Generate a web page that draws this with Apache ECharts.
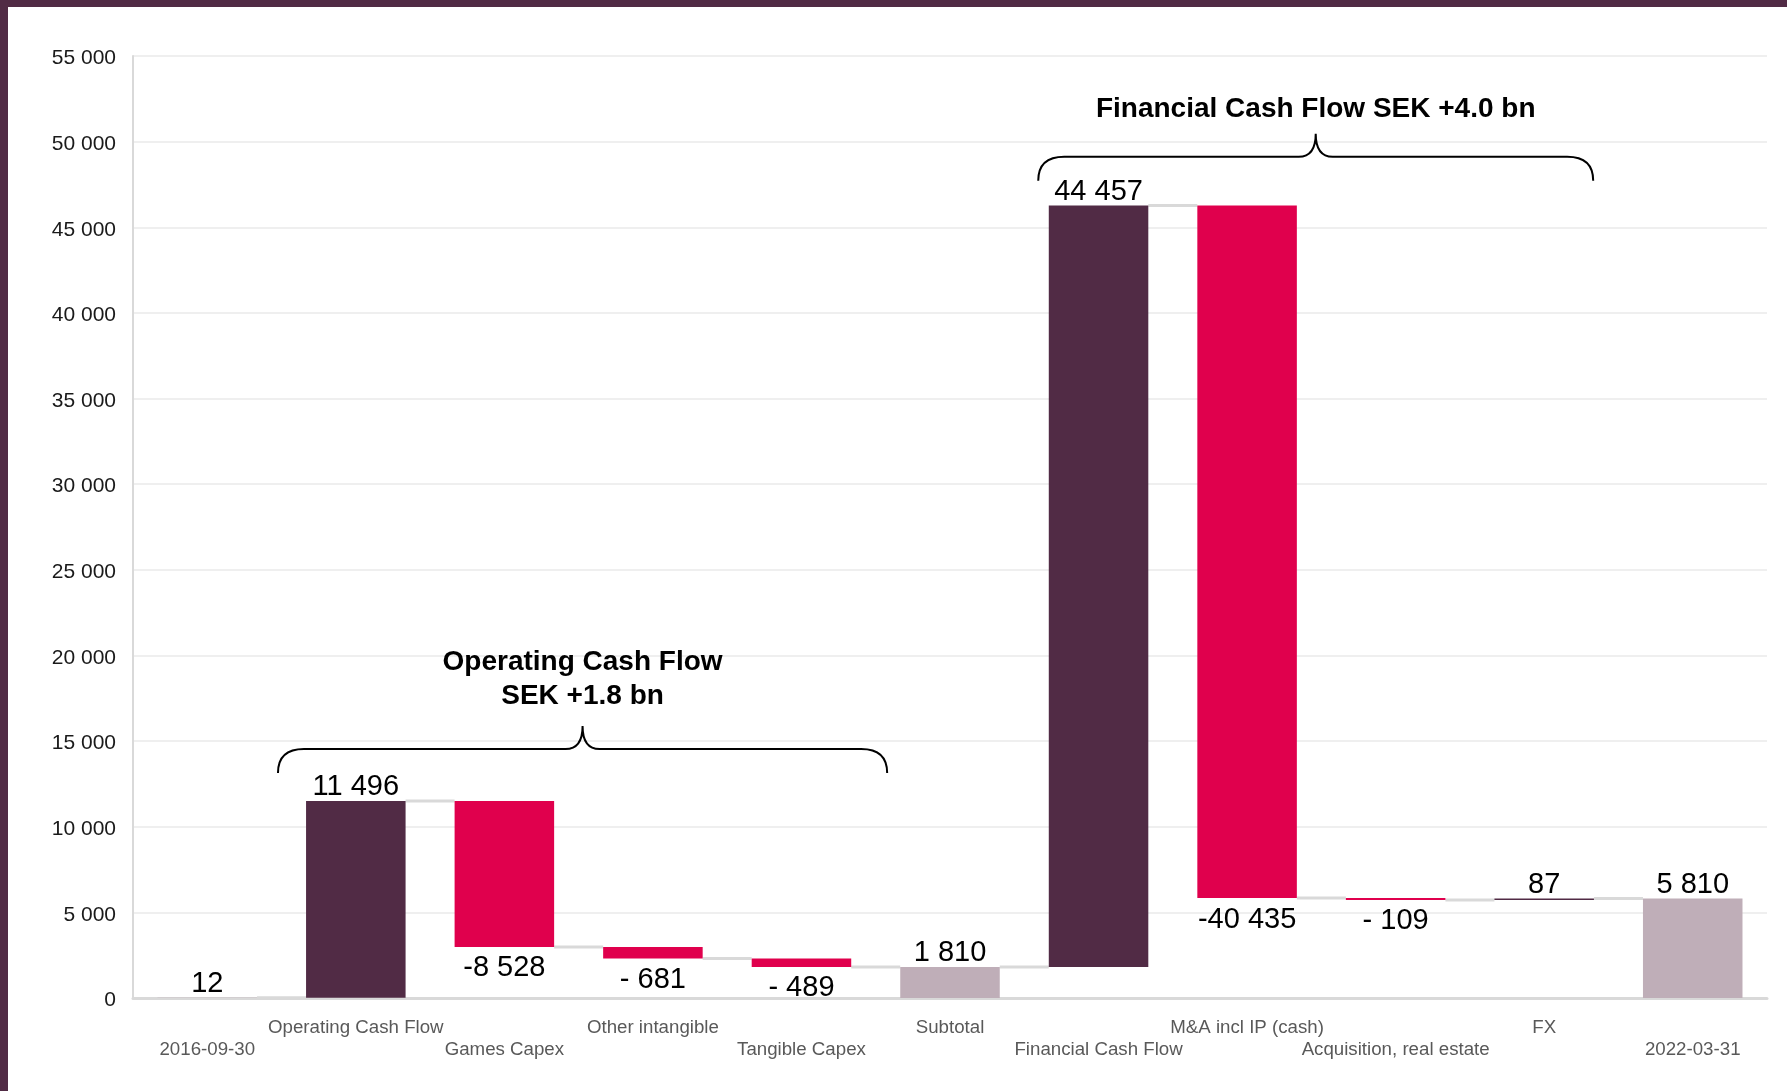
<!DOCTYPE html>
<html>
<head>
<meta charset="utf-8">
<title>Cash flow bridge 2016-09-30 to 2022-03-31</title>
<script src="https://cdn.jsdelivr.net/npm/echarts@6/dist/echarts.min.js"></script>
<style>
  html, body { margin: 0; padding: 0; background: #ffffff; }
  #wrap { position: relative; width: 1787px; height: 1091px; overflow: hidden; }
  #chart { position: absolute; left: 0; top: 0; width: 1787px; height: 1091px; }
  .frame { position: absolute; background: #512b45; z-index: 5; }
  #frameTop { left: 0; top: 0; width: 1787px; height: 7px; }
  #frameLeft { left: 0; top: 0; width: 8px; height: 1091px; }
</style>
</head>
<body>
<div id="wrap">
  <div id="chart"></div>
  <div class="frame" id="frameTop"></div>
  <div class="frame" id="frameLeft"></div>
</div>
<script>
// Bridge steps, SEK m
const categories = [
  '2016-09-30', 'Operating Cash Flow', 'Games Capex', 'Other intangible',
  'Tangible Capex', 'Subtotal', 'Financial Cash Flow', 'M&A incl IP (cash)',
  'Acquisition, real estate', 'FX', '2022-03-31'
];
const amounts = [12, 11496, -8528, -681, -489, 1810, 44457, -40435, -109, 87, 5810];
const kinds = ['total', 'delta', 'delta', 'delta', 'delta', 'total', 'delta', 'delta', 'delta', 'delta', 'total'];

// Value axis ticks
const yMin = 0;
const yMax = 55000;
const yStep = 5000;

// Group annotations: category span (in category units) and bracket level
const groupNotes = ['Operating Cash Flow\nSEK +1.8 bn', 'Financial Cash Flow SEK +4.0 bn'];
const groupFrom = [0.476, 5.594];
const groupTo = [4.577, 9.33];
const groupLevel = [14545, 49124];

const COLORS = { up: '#512b45', down: '#e0004d', total: '#bfaeb8', link: '#d9d9d9' };
const FONT = '"Liberation Sans", Arial, Helvetica, sans-serif';
const BAR_RATIO = 0.67;
const NOTE_GAP = [13, 7];

function spaced(n) {
  return String(n).replace(/\B(?=(\d{3})+(?!\d))/g, ' ');
}
function fmtValue(v) {
  const a = Math.abs(v);
  if (v < 0) return '-' + (a < 1000 ? ' ' : '') + spaced(a);
  return spaced(a);
}

// Build the invisible base and visible segments of the waterfall
const base = [], up = [], down = [], total = [], levels = [];
let level = 0;
amounts.forEach((v, i) => {
  if (kinds[i] === 'total') {
    level = v;
    base.push(0); up.push('-'); down.push('-'); total.push(v);
  } else if (v >= 0) {
    base.push(level); up.push(v); down.push('-'); total.push('-');
    level += v;
  } else {
    level += v;
    base.push(level); up.push('-'); down.push(-v); total.push('-');
  }
  levels.push(level);
});
const linkData = levels.slice(0, -1).map((l, i) => [i, l]);

const valueLabel = (pos, dist) => ({
  show: true,
  position: pos,
  distance: dist,
  color: '#000000',
  fontFamily: FONT,
  fontSize: 29,
  formatter: p => fmtValue(amounts[p.dataIndex])
});

const chart = echarts.init(document.getElementById('chart'), null, { renderer: 'canvas' });

chart.setOption({
  backgroundColor: '#ffffff',
  animation: false,
  grid: { left: 133, right: 20, top: 56, bottom: 93, containLabel: false, outerBoundsMode: 'none' },
  xAxis: {
    type: 'category',
    data: categories,
    axisLine: { show: true, lineStyle: { color: '#d9d9d9', width: 3 } },
    axisTick: { show: false },
    axisLabel: {
      interval: 0,
      margin: 19,
      color: '#595959',
      fontFamily: FONT,
      fontSize: 18.7,
      lineHeight: 22,
      formatter: (val, idx) => (idx % 2 === 1 ? val : '\n' + val)
    },
    splitLine: { show: false }
  },
  yAxis: {
    type: 'value',
    min: yMin,
    max: yMax,
    interval: yStep,
    axisLine: { show: true, lineStyle: { color: '#d9d9d9', width: 2 } },
    axisTick: { show: false },
    axisLabel: {
      margin: 17,
      color: '#1a1a1a',
      fontFamily: FONT,
      fontSize: 21,
      // sit the numbers a touch below their gridline
      verticalAlign: 'top',
      lineHeight: 5,
      formatter: v => spaced(v)
    },
    splitLine: { show: true, lineStyle: { color: '#efefef', width: 2 } }
  },
  series: [
    {
      type: 'custom',
      name: 'links',
      silent: true,
      z: 1,
      clip: false,
      data: linkData,
      renderItem: (params, api) => {
        const p = api.coord([api.value(0), api.value(1)]);
        const band = api.size([1, 0])[0];
        const half = band * BAR_RATIO / 2;
        return {
          type: 'line',
          shape: { x1: p[0] + half, y1: p[1], x2: p[0] + band - half, y2: p[1] },
          style: { stroke: COLORS.link, lineWidth: 3 }
        };
      }
    },
    {
      type: 'bar', name: 'base', stack: 'wf', barWidth: (BAR_RATIO * 100) + '%',
      silent: true, z: 2,
      itemStyle: { color: 'transparent' },
      emphasis: { disabled: true },
      data: base
    },
    {
      type: 'bar', name: 'up', stack: 'wf', z: 2,
      itemStyle: { color: COLORS.up },
      label: valueLabel('top', -1),
      data: up
    },
    {
      type: 'bar', name: 'down', stack: 'wf', z: 2,
      itemStyle: { color: COLORS.down },
      label: valueLabel('bottom', 7),
      data: down
    },
    {
      type: 'bar', name: 'total', stack: 'wf', z: 2,
      itemStyle: { color: COLORS.total },
      label: valueLabel('top', -1),
      data: total
    },
    {
      type: 'custom',
      name: 'groups',
      silent: true,
      z: 5,
      clip: false,
      data: groupNotes.map((t, i) => [i, groupLevel[i]]),
      renderItem: (params, api) => {
        const i = params.dataIndex;
        const x0 = api.coord([0, 0])[0];
        const band = api.size([1, 0])[0];
        const yh = api.coord([0, groupLevel[i]])[1];
        const xa = x0 + groupFrom[i] * band;
        const xb = x0 + groupTo[i] * band;
        const xt = (xa + xb) / 2;
        const drop = 24, rise = 23, r = 26, rt = 17;
        const yb = yh + drop;
        const yt = yh - rise;
        const d = [
          'M', xa, yb,
          'Q', xa, yh, xa + r, yh,
          'L', xt - rt, yh,
          'Q', xt, yh, xt, yt,
          'Q', xt, yh, xt + rt, yh,
          'L', xb - r, yh,
          'Q', xb, yh, xb, yb
        ].join(' ');
        return {
          type: 'group',
          children: [
            {
              type: 'path',
              shape: { pathData: d },
              style: { stroke: '#000000', lineWidth: 2, fill: null }
            },
            {
              type: 'text',
              style: {
                x: xt,
                y: yt - NOTE_GAP[i],
                text: groupNotes[i],
                fill: '#000000',
                font: 'bold 28px ' + FONT,
                align: 'center',
                verticalAlign: 'bottom',
                lineHeight: 34
              }
            }
          ]
        };
      }
    }
  ]
});
</script>
</body>
</html>
